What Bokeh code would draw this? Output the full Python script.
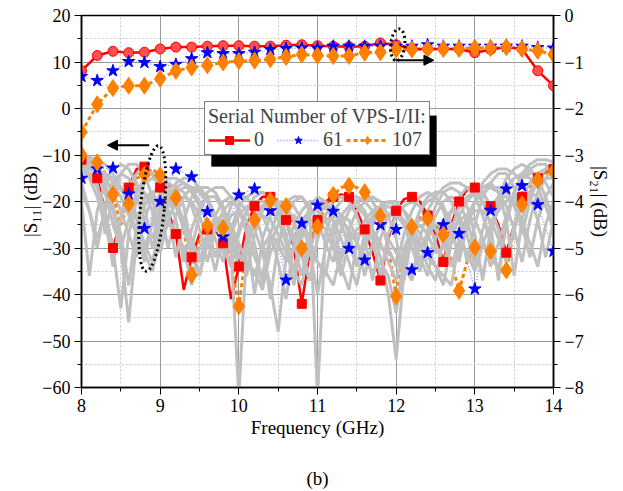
from bokeh.plotting import figure
from bokeh.models import (Range1d, LinearAxis, Legend, LegendItem, Arrow, NormalHead,
                          BoxAnnotation, FixedTicker)
from bokeh.embed import file_html
from bokeh.resources import INLINE

FONT = "Liberation Serif"

# ---------------- data ----------------
freq = [8.0, 8.1, 8.2, 8.3, 8.4, 8.5, 8.6, 8.7, 8.8, 8.9,
        9.0, 9.1, 9.2, 9.3, 9.4, 9.5, 9.6, 9.7, 9.8, 9.9,
        10.0, 10.1, 10.2, 10.3, 10.4, 10.5, 10.6, 10.7, 10.8, 10.9,
        11.0, 11.1, 11.2, 11.3, 11.4, 11.5, 11.6, 11.7, 11.8, 11.9,
        12.0, 12.1, 12.2, 12.3, 12.4, 12.5, 12.6, 12.7, 12.8, 12.9,
        13.0, 13.1, 13.2, 13.3, 13.4, 13.5, 13.6, 13.7, 13.8, 13.9, 14.0]
freq_mk = freq[::2]

# |S11| of VPS 0 (red) and 107 (orange), 0.1 GHz steps
s11_0 = [-11, -12, -15, -22, -30, -24, -17, -13, -12.5, -14,
         -17, -22, -27, -39, -32, -27, -26, -26, -29, -41,
         -34, -25, -21, -19, -19, -21, -24, -30, -42, -31,
         -24, -20, -19, -18.5, -19, -22, -26, -31, -37, -28,
         -22, -19.5, -19, -20, -23, -27, -33, -25, -20, -17.5,
         -17, -18, -21, -25, -31, -25, -19, -16, -15, -13.5, -13]
s11_107 = [-10, -10.5, -11.6, -14, -18.5, -25, -20.5, -15, -14.2, -13,
           -14.4, -16, -19.2, -26, -35.8, -28, -25.2, -24, -25.7, -33,
           -42.5, -30, -24, -21, -19.8, -19.5, -21, -25, -30.1, -28,
           -25.4, -21, -18.6, -17, -16.6, -17, -18, -20, -23.1, -30,
           -40.4, -31, -25.5, -23.5, -23.6, -25, -27.1, -33, -39.2, -33,
           -29.9, -29, -30.7, -35, -34.8, -26, -20.6, -17, -15.4, -14, -13.5]
# |S11| of VPS 61 (blue), 0.2 GHz steps
s11_61 = [-15, -13, -12.8, -18.4, -25.8, -20, -13, -14.7, -22.2, -27.6,
          -18.6, -17.3, -22, -36.9, -24.7, -20.8, -22.1, -30.1, -32.6, -25,
          -26, -34.7, -31, -25, -26.9, -38.8, -21.9, -17.3, -16.6, -20.7, -30.7]

# |S21| (right axis), 0.2 GHz steps
s21_0 = [-1.19, -0.86, -0.77, -0.80, -0.79, -0.72, -0.68, -0.68, -0.66, -0.65,
         -0.65, -0.66, -0.66, -0.64, -0.63, -0.65, -0.66, -0.67, -0.66, -0.59,
         -0.63, -0.72, -0.72, -0.72, -0.72, -0.80, -0.73, -0.68, -0.72, -1.19, -1.51]
s21_61 = [-1.31, -1.40, -1.19, -0.99, -1.01, -1.10, -1.05, -0.93, -0.80, -0.82,
          -0.82, -0.79, -0.73, -0.71, -0.70, -0.70, -0.66, -0.66, -0.66, -0.66,
          -0.66, -0.66, -0.63, -0.66, -0.66, -0.66, -0.66, -0.66, -0.66, -0.69, -0.70]
s21_107 = [-2.51, -1.91, -1.56, -1.51, -1.51, -1.36, -1.19, -1.12, -1.07, -1.01,
           -0.98, -0.97, -0.94, -0.89, -0.84, -0.86, -0.87, -0.87, -0.80, -0.79,
           -0.73, -0.73, -0.72, -0.72, -0.72, -0.70, -0.70, -0.68, -0.72, -0.76, -0.84]

# |S11| of the other VPS-I/II serial numbers (gray), 0.1 GHz steps
gray_1 = [-12, -14, -17, -22, -30, -43, -27, -20, -16, -15,
          -16, -19, -24, -33, -26, -21, -19, -19, -22, -30,
          -62, -30, -24, -21, -20, -21, -24, -29, -36, -27,
          -23, -21, -21, -23, -27, -33, -30, -25, -22, -21,
          -22, -25, -30, -35, -28, -23, -20, -19, -20, -24,
          -30, -36, -27, -21, -17, -15, -14, -15, -17, -21, -26]
gray_2 = [-11, -11.5, -13, -16, -22, -30, -46, -28, -21, -18,
          -17, -18, -20, -24, -29, -36, -28, -23, -20, -19,
          -20, -22, -26, -31, -38, -48, -32, -25, -22, -20,
          -20, -21, -24, -28, -33, -38, -29, -24, -21, -20,
          -20, -22, -25, -29, -34, -37, -28, -22, -19, -17,
          -17, -18, -21, -26, -33, -25, -19, -16, -14, -13, -13]
gray_3 = [-20, -36, -22, -16, -13, -12, -13, -16, -21, -30,
          -24, -19, -17, -16, -17, -20, -25, -32, -26, -21,
          -19, -19, -22, -28, -41, -29, -23, -20, -19, -22,
          -62, -27, -22, -20, -19, -20, -22, -26, -32, -40,
          -54, -35, -27, -22, -20, -19, -21, -25, -33, -25,
          -20, -17, -16, -18, -24, -36, -24, -18, -15, -13, -12]
gray_4 = [-10.5, -12, -16, -27, -19, -14, -12, -12, -14, -19,
          -29, -21, -16, -15, -15, -17, -20, -24, -28, -34,
          -27, -22, -19, -18, -19, -22, -27, -35, -27, -21,
          -19, -20, -24, -33, -26, -22, -20, -19, -20, -23,
          -28, -37, -27, -22, -19, -18, -18, -20, -24, -33,
          -25, -19, -16, -14, -14, -17, -27, -20, -15, -13, -12]
gray_5 = [-13, -14, -17, -22, -34, -23, -17, -14, -13, -14,
          -17, -22, -32, -24, -19, -17, -17, -18, -21, -26,
          -31, -36, -27, -22, -20, -20, -21, -24, -30, -37,
          -28, -23, -20, -19, -20, -23, -28, -37, -28, -23,
          -21, -22, -26, -35, -26, -21, -18, -17, -18, -21,
          -27, -37, -26, -19, -15, -13, -12, -13, -15, -19, -24]
gray_6 = [-16, -22, -30, -21, -16, -14, -15, -19, -24, -28,
          -22, -18, -17, -18, -21, -26, -33, -26, -22, -20,
          -21, -27, -40, -28, -23, -21, -20, -21, -24, -28,
          -33, -36, -27, -23, -21, -21, -23, -28, -36, -27,
          -23, -21, -20, -21, -24, -29, -34, -26, -21, -19,
          -18, -20, -25, -37, -24, -18, -15, -13, -12, -12, -14]
gray_7 = [-14, -13, -13, -14, -16, -19, -23, -27, -31, -35,
          -28, -25, -26, -30, -38, -30, -27, -26, -27, -29,
          -32, -33, -35, -39, -31, -28, -27, -27, -29, -31,
          -33, -35, -38, -31, -28, -27, -27, -28, -30, -31,
          -33, -34, -36, -30, -27, -25, -25, -26, -28, -31,
          -35, -29, -25, -22, -20, -19, -18, -18, -19, -21, -25]
gray_8 = [-12, -12.5, -14, -17, -21, -27, -38, -25, -19, -18,
          -21, -30, -23, -19, -17, -17, -19, -23, -31, -27,
          -23, -21, -21, -23, -27, -33, -41, -29, -24, -22,
          -22, -24, -28, -34, -39, -29, -24, -22, -21, -21,
          -22, -24, -27, -30, -32, -34, -36, -38, -29, -23,
          -20, -18, -17, -17, -18, -20, -24, -29, -34, -25, -20]
gray_9 = [-11, -12, -14, -18, -25, -30, -24, -18, -15, -14,
          -15, -17, -21, -26, -31, -36, -29, -25, -24, -27,
          -35, -28, -24, -23, -24, -27, -31, -35, -38, -30,
          -26, -24, -23, -24, -26, -29, -33, -35, -33, -36,
          -44, -32, -27, -25, -27, -31, -30, -27, -24, -23,
          -24, -28, -34, -29, -23, -18, -15, -14, -14, -16, -19]
gray_10 = [-10, -10.5, -11, -12, -14, -17, -21, -27, -33, -24,
           -18, -16, -17, -21, -30, -23, -18, -17, -17, -19,
           -22, -26, -32, -36, -27, -22, -20, -19, -19, -21,
           -24, -29, -33, -26, -22, -20, -19, -20, -23, -30,
           -34, -27, -22, -19, -18, -19, -22, -27, -31, -26,
           -20, -16, -14, -13, -13, -14, -16, -19, -24, -32, -24]
gray_11 = [-10.5, -11, -12.5, -15, -18, -22, -27, -32, -24, -19,
           -16, -15, -15, -16, -18, -21, -24, -28, -33, -26,
           -21, -19, -18, -18, -19, -21, -24, -28, -32, -37,
           -28, -23, -20, -19, -19, -19, -20, -22, -25, -28,
           -31, -34, -37, -28, -22, -19, -17, -16, -16, -17,
           -19, -23, -29, -35, -25, -18, -14, -12, -11, -11, -11.5]
gray_12 = [-13, -15, -19, -25, -32, -24, -19, -17, -18, -22,
           -31, -24, -20, -19, -20, -23, -28, -35, -27, -23,
           -22, -24, -29, -38, -29, -25, -23, -23, -25, -30,
           -40, -30, -25, -23, -24, -28, -36, -29, -25, -23,
           -23, -25, -28, -32, -36, -28, -24, -22, -23, -27,
           -34, -26, -21, -19, -19, -21, -25, -32, -24, -19, -16]
gray_13 = [-18, -22, -28, -22, -18, -17, -19, -23, -30, -25,
           -21, -20, -21, -24, -28, -33, -27, -24, -23, -25,
           -29, -33, -36, -30, -27, -29, -33, -30, -26, -24,
           -24, -26, -30, -36, -29, -26, -25, -26, -29, -33,
           -37, -30, -26, -24, -24, -26, -29, -34, -28, -24,
           -22, -22, -24, -28, -33, -26, -21, -18, -16, -15, -15]
gray_14 = [-11, -13, -13.5, -14, -15, -17, -20, -24, -29, -33,
           -25, -20, -18, -17, -17, -18, -20, -23, -27, -31,
           -26, -22, -20, -20, -21, -24, -29, -38, -28, -23,
           -21, -21, -22, -25, -29, -34, -27, -23, -21, -20,
           -21, -22, -24, -27, -30, -34, -38, -29, -23, -20,
           -18, -17, -17, -18, -21, -26, -33, -24, -18, -15, -13]
gray_curves = [gray_1, gray_2, gray_3, gray_4, gray_5, gray_6, gray_7,
               gray_8, gray_9, gray_10, gray_11, gray_12, gray_13, gray_14]

legend_title = "Serial Number of VPS-I/II:"
legend_labels = ["0", "61", "107"]
caption = "(b)"

# ---------------- figure ----------------
p = figure(width=623, height=491, output_backend="svg", toolbar_location=None,
           x_range=Range1d(8, 14), y_range=Range1d(-60, 20),
           min_border_left=81, min_border_right=70, min_border_top=15, min_border_bottom=94,
           background_fill_color="white", border_fill_color="white")
p.extra_y_ranges = {"s21": Range1d(-8, 0)}
p.outline_line_color = "black"
p.outline_line_width = 1.5

RED, BLUE, ORANGE, GRAY = "#ff0000", "#0000ff", "#ff8000", "#c0c0c0"

# S11 coloured lines
r_red_l = p.line(freq, s11_0, line_color=RED, line_width=2.5)
r_blue_l = p.line(freq_mk, s11_61, line_color=BLUE, line_width=1.3, line_dash="1 2", line_alpha=0.45)
r_or_l = p.line(freq, s11_107, line_color=ORANGE, line_width=3, line_dash="4 3")

# gray curves over the lines
for g in gray_curves:
    p.line(freq, g, line_color=GRAY, line_width=3)

# S11 markers
r_red_m = p.scatter(freq_mk, s11_0[::2], marker="square", size=9, fill_color=RED, line_color=RED)
r_blue_m = p.scatter(freq_mk, s11_61, marker="star", size=13, fill_color=BLUE, line_color=BLUE)
r_or_m = p.scatter(freq_mk, s11_107[::2], marker="diamond", size=17, fill_color=ORANGE, line_color=ORANGE)

# S21 curves on right axis
p.line(freq_mk, s21_61, line_color=BLUE, line_width=1.3, line_dash="1 2", line_alpha=0.45, y_range_name="s21")
p.line(freq_mk, s21_107, line_color=ORANGE, line_width=3, line_dash="4 3", y_range_name="s21")
p.line(freq_mk, s21_0, line_color=RED, line_width=2.5, y_range_name="s21")
p.scatter(freq_mk, s21_0, marker="circle", size=10, fill_color="#ff5050", line_color=RED, y_range_name="s21")
p.scatter(freq_mk, s21_61, marker="star", size=13, fill_color=BLUE, line_color=BLUE, y_range_name="s21")
p.scatter(freq_mk, s21_107, marker="diamond", size=17, fill_color=ORANGE, line_color=ORANGE, y_range_name="s21")

# dotted ellipses and arrows
p.ellipse(x=[8.9], y=[-21.5], width=[24], height=[126], angle=-0.1,
          width_units="screen", height_units="screen",
          fill_alpha=0, line_color="black", line_width=3, line_dash="2 3")
p.ellipse(x=[12.02], y=[13.7], width=[14], height=[32], angle=-0.1,
          width_units="screen", height_units="screen",
          fill_alpha=0, line_color="black", line_width=3, line_dash="2 3")
p.add_layout(Arrow(end=NormalHead(size=10, fill_color="black", line_color="black"),
                   x_start=8.86, y_start=-7.9, x_end=8.33, y_end=-7.9,
                   line_color="black", line_width=2))
p.add_layout(Arrow(end=NormalHead(size=10, fill_color="black", line_color="black"),
                   x_start=11.99, y_start=10.37, x_end=12.48, y_end=10.37,
                   line_color="black", line_width=2))

# axes
def style_axis(ax, label_standoff):
    ax.axis_line_color = "black"
    ax.axis_line_width = 1.5
    ax.major_tick_line_color = "black"
    ax.minor_tick_line_color = "black"
    ax.major_tick_in = 0
    ax.major_tick_out = 7
    ax.minor_tick_in = 0
    ax.minor_tick_out = 4
    ax.major_label_text_font = FONT
    ax.major_label_text_font_size = "18px"
    ax.major_label_text_color = "black"
    ax.axis_label_text_font = FONT
    ax.axis_label_text_font_size = "19px"
    ax.axis_label_text_font_style = "normal"
    ax.axis_label_text_color = "black"
    ax.major_label_standoff = 4
    ax.axis_label_standoff = label_standoff

p.xaxis.ticker = FixedTicker(ticks=[8, 9, 10, 11, 12, 13, 14],
                             minor_ticks=[8.5, 9.5, 10.5, 11.5, 12.5, 13.5])
p.yaxis.ticker = FixedTicker(ticks=[-60, -50, -40, -30, -20, -10, 0, 10, 20],
                             minor_ticks=[-55, -45, -35, -25, -15, -5, 5, 15])
p.xaxis.axis_label = "Frequency (GHz)"
p.yaxis.axis_label = "|S\u2081\u2081| (dB)"
style_axis(p.xaxis[0], 2)
style_axis(p.yaxis[0], -2)

ax_r = LinearAxis(y_range_name="s21", axis_label="|S\u2082\u2081| (dB)",
                  ticker=FixedTicker(ticks=[-8, -7, -6, -5, -4, -3, -2, -1, 0],
                                     minor_ticks=[-7.5, -6.5, -5.5, -4.5, -3.5, -2.5, -1.5, -0.5]))
style_axis(ax_r, 3)
p.add_layout(ax_r, "right")

# caption "(b)" as a tick-less second axis below the frequency axis
ax_cap = LinearAxis(ticker=FixedTicker(ticks=[]), axis_label=caption,
                    axis_line_color=None, major_tick_line_color=None, minor_tick_line_color=None,
                    major_tick_out=0, major_tick_in=0, minor_tick_out=0, minor_tick_in=0,
                    major_label_standoff=0,
                    axis_label_text_font=FONT, axis_label_text_font_size="19px",
                    axis_label_text_font_style="normal", axis_label_text_color="black",
                    axis_label_standoff=27)
p.add_layout(ax_cap, "below")

p.xgrid.grid_line_color = "#9a9a9a"
p.ygrid.grid_line_color = "#9a9a9a"
p.xgrid.minor_grid_line_color = "#c8c8c8"
p.ygrid.minor_grid_line_color = "#c8c8c8"
p.xgrid.minor_grid_line_dash = "2 2"
p.ygrid.minor_grid_line_dash = "2 2"

# legend with shadow
p.add_layout(BoxAnnotation(left=9.652, right=12.513, top=-1.57, bottom=-12.46,
                           fill_color="black", fill_alpha=1, line_color="black"))
legend = Legend(items=[LegendItem(label=legend_labels[0], renderers=[r_red_l, r_red_m]),
                       LegendItem(label=legend_labels[1], renderers=[r_blue_l, r_blue_m]),
                       LegendItem(label=legend_labels[2], renderers=[r_or_l, r_or_m])],
                orientation="horizontal", location=(123, 232),
                title=legend_title)
legend.title_text_font = FONT
legend.title_text_font_size = "20px"
legend.title_text_font_style = "normal"
legend.title_standoff = 0
legend.label_text_font = FONT
legend.label_text_font_size = "20px"
legend.border_line_color = "black"
legend.border_line_width = 1.5
legend.background_fill_alpha = 1
legend.padding = 3
legend.spacing = 3
legend.margin = 0
legend.glyph_width = 42
legend.label_standoff = 4
p.add_layout(legend, "center")

open("out.html", "w").write(file_html(p, INLINE))
